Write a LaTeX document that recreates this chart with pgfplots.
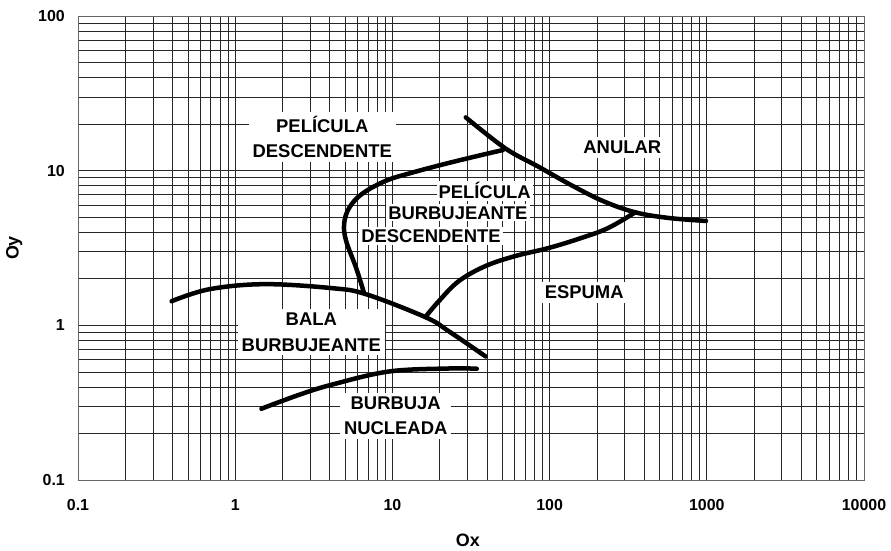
\documentclass[border=0pt]{standalone}
\usepackage{fontspec}
\setmainfont{Liberation Sans}
\usepackage{pgfplots}
\pgfplotsset{compat=1.18}
\begin{document}
\begin{tikzpicture}
\begin{axis}[
  at={(0,0)}, anchor=south west,
  scale only axis, width=786bp, height=464bp,
  xmode=log, ymode=log,
  xmin=0.1, xmax=10000, ymin=0.1, ymax=100,
  xtick={0.1,1,10,100,1000,10000},
  xticklabels={0.1,1,10,100,1000,10000},
  ytick={0.1,1,10,100},
  yticklabels={0.1,1,10,100},
  major tick length=0pt, minor tick length=0pt,
  grid=both,
  major grid style={black!85, line width=0.8bp},
  minor grid style={black!85, line width=0.7bp},
  axis line style={black!60, line width=0.7bp},
  ticklabel style={font=\bfseries\fontsize{16}{16}\selectfont, inner sep=0pt},
  xticklabel shift=19bp,
  yticklabel shift=13bp,
  xlabel={Ox}, ylabel={Oy},
  xlabel style={font=\bfseries\fontsize{18}{18}\selectfont, at={(axis description cs:0.496,-0.129)}, anchor=center},
  ylabel style={font=\bfseries\fontsize{18}{18}\selectfont, at={(axis description cs:-0.081,0.5)}, anchor=center},
  clip=true,
]
\tikzset{lbl/.style={fill=white, inner sep=4bp, align=center, font=\bfseries\fontsize{18.5}{25.5}\selectfont}}
\node[lbl] at (axis cs:3.58,16.6) {PELÍCULA\\DESCENDENTE};
\node[lbl] at (axis cs:290,14.1) {ANULAR};
\node[lbl, inner sep=2bp] at (axis cs:38.6,7.41) {PELÍCULA};
\node[lbl, inner sep=2bp] at (axis cs:26.1,5.34) {BURBUJEANTE};
\node[lbl, inner sep=2bp] at (axis cs:17.6,3.78) {DESCENDENTE};
\node[lbl] at (axis cs:166,1.64) {ESPUMA};
\node[lbl] at (axis cs:3.05,0.901) {BALA\\BURBUJEANTE};
\node[lbl] at (axis cs:10.5,0.26) {BURBUJA\\NUCLEADA};

% upper boundary of bala burbujeante
\addplot[black, line width=4.5bp, line cap=round, smooth, tension=0.6] coordinates {
(0.394,1.432) (0.687,1.713) (1.535,1.846) (4.14,1.739) (6.80,1.589) (16.3,1.127) (22.9,0.914) (39.2,0.629)};
% burbuja nucleada
\addplot[black, line width=4.5bp, line cap=round, smooth, tension=0.6] coordinates {
(1.468,0.289) (2.56,0.356) (4.14,0.414) (9.51,0.503) (22.9,0.526) (34.4,0.524)};
% pelicula descendente / burbujeante
\addplot[black, line width=4.5bp, line cap=round, smooth, tension=0.6] coordinates {
(6.61,1.61) (5.88,2.35) (5.08,3.51) (4.93,4.53) (5.31,5.75) (6.42,7.09) (9.11,8.61) (13.3,9.70) (21.9,11.1) (35.4,12.5) (50.5,13.6)};
% anular boundary
\addplot[black, line width=4.5bp, line cap=round, smooth, tension=0.6] coordinates {
(29.3,22.1) (52.5,13.9) (85.1,10.6) (137.7,8.05) (219.6,6.35) (350.6,5.38) (567.6,4.95) (988,4.73)};
% espuma boundary
\addplot[black, line width=4.5bp, line cap=round, smooth, tension=0.6] coordinates {
(16.3,1.14) (19.7,1.43) (26.4,1.93) (39.2,2.42) (60.8,2.81) (98.4,3.16) (159,3.67) (236,4.26) (350.6,5.38)};
\end{axis}
\pgfresetboundingbox
\useasboundingbox (-78bp,-71bp) rectangle (813bp,480bp);
\end{tikzpicture}
\end{document}
